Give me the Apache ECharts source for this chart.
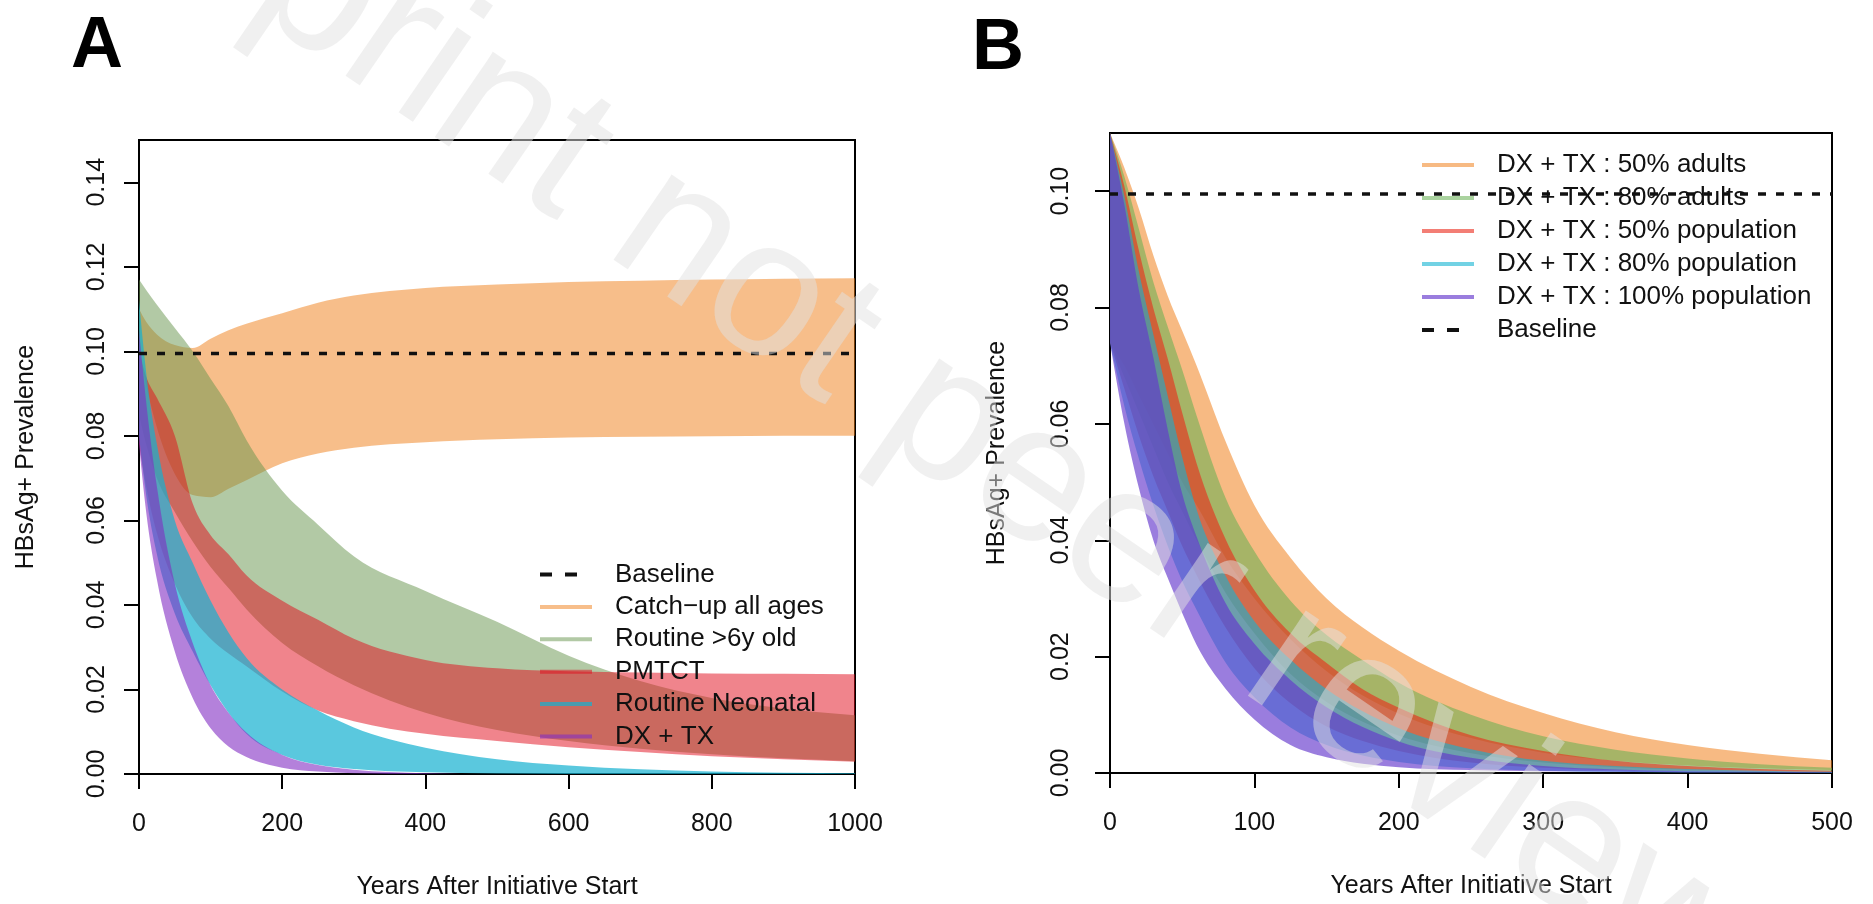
<!DOCTYPE html>
<html>
<head>
<meta charset="utf-8">
<title>HBsAg+ prevalence scenarios</title>
<script src="https://cdn.jsdelivr.net/npm/echarts@6/dist/echarts.min.js"></script>
<style>
  html, body { margin: 0; padding: 0; background: #fff; }
  #chart { width: 1873px; height: 904px; }
</style>
</head>
<body>
<div id="chart"></div>
<script>
// ---- panel A : intervention scenarios (ribbons = range of runs)
const yearsA = [0, 10, 25, 50, 75, 100, 125, 150, 200, 250, 300, 400, 500, 600, 700, 800, 900, 1000];
const catchupHi = [0.110, 0.107, 0.104, 0.1015, 0.1008, 0.103, 0.105, 0.1065, 0.109, 0.1115, 0.1132, 0.1150, 0.1158, 0.1164, 0.1167, 0.1170, 0.1172, 0.1173];
const catchupLo = [0.100, 0.092, 0.082, 0.071, 0.066, 0.0655, 0.0675, 0.0695, 0.0735, 0.0758, 0.0772, 0.0785, 0.0792, 0.0796, 0.0798, 0.0799, 0.0800, 0.0800];
const routine6Hi = [0.117, 0.1145, 0.111, 0.1055, 0.100, 0.0935, 0.087, 0.079, 0.067, 0.059, 0.0515, 0.0433, 0.036, 0.028, 0.022, 0.018, 0.0155, 0.0139];
const routine6Lo = [0.085, 0.078, 0.070, 0.062, 0.055, 0.049, 0.044, 0.039, 0.031, 0.0255, 0.021, 0.0145, 0.0104, 0.0078, 0.0060, 0.0047, 0.0037, 0.0030];
const pmtctHi = [0.100, 0.094, 0.089, 0.080, 0.064, 0.0565, 0.052, 0.047, 0.041, 0.0365, 0.032, 0.027, 0.025, 0.0243, 0.0240, 0.0238, 0.0237, 0.0236];
const pmtctLo = [0.078, 0.068, 0.057, 0.045, 0.037, 0.032, 0.0285, 0.0255, 0.0195, 0.015, 0.0125, 0.0095, 0.0078, 0.0063, 0.0052, 0.0042, 0.0035, 0.0029];
const neonatalHi = [0.112, 0.095, 0.078, 0.060, 0.050, 0.041, 0.0335, 0.0275, 0.020, 0.015, 0.011, 0.0062, 0.0035, 0.0020, 0.0011, 0.0006, 0.0003, 0.0002];
const neonatalLo = [0.080, 0.066, 0.052, 0.038, 0.029, 0.021, 0.0145, 0.0095, 0.0045, 0.0022, 0.0012, 0.0004, 0.0001, 0, 0, 0, 0, 0];
const dxtxHi = [0.105, 0.088, 0.068, 0.045, 0.031, 0.021, 0.0145, 0.0098, 0.0045, 0.0021, 0.0010, 0.0002, 0, 0, 0, 0, 0, 0];
const dxtxLo = [0.078, 0.062, 0.046, 0.029, 0.018, 0.0108, 0.0065, 0.0040, 0.0015, 0.0006, 0.0002, 0, 0, 0, 0, 0, 0, 0];

// ---- panel B : diagnosis + treatment coverage
const yearsB = [0, 10, 20, 30, 40, 50, 60, 80, 100, 125, 150, 175, 200, 250, 300, 350, 400, 450, 500];
const adults50Hi = [0.110, 0.104, 0.097, 0.089, 0.082, 0.076, 0.070, 0.057, 0.046, 0.037, 0.030, 0.025, 0.021, 0.0148, 0.0103, 0.0070, 0.0048, 0.0033, 0.0022];
const adults50Lo = [0.074, 0.070, 0.065, 0.060, 0.055, 0.050, 0.046, 0.037, 0.030, 0.023, 0.0175, 0.0133, 0.0102, 0.0060, 0.0035, 0.0021, 0.0013, 0.0008, 0.0005];
const adults80Hi = [0.110, 0.1025, 0.0935, 0.0844, 0.0767, 0.0693, 0.0614, 0.0473, 0.0381, 0.0296, 0.0237, 0.0194, 0.0155, 0.0100, 0.0063, 0.0040, 0.0025, 0.0015, 0.0009];
const adults80Lo = [0.074, 0.068, 0.062, 0.056, 0.050, 0.045, 0.040, 0.031, 0.024, 0.017, 0.0122, 0.0088, 0.0064, 0.0034, 0.0018, 0.0010, 0.0006, 0.0004, 0.0002];
const pop50Hi = [0.110, 0.1008, 0.0898, 0.0799, 0.0712, 0.0619, 0.0532, 0.0402, 0.0314, 0.0240, 0.0189, 0.0144, 0.0112, 0.0065, 0.0038, 0.0021, 0.0012, 0.0007, 0.0004];
const pop50Lo = [0.074, 0.066, 0.058, 0.051, 0.045, 0.039, 0.034, 0.025, 0.018, 0.012, 0.0080, 0.0055, 0.0038, 0.0018, 0.0009, 0.0005, 0.0003, 0.0002, 0.0001];
const pop80Hi = [0.110, 0.0991, 0.0862, 0.0754, 0.0648, 0.0543, 0.0453, 0.0339, 0.0261, 0.0195, 0.0144, 0.0106, 0.0077, 0.0041, 0.0021, 0.0012, 0.0007, 0.0004, 0.0002];
const pop80Lo = [0.074, 0.063, 0.054, 0.046, 0.039, 0.033, 0.028, 0.019, 0.013, 0.0078, 0.0048, 0.0030, 0.0019, 0.0008, 0.0004, 0.0002, 0.0001, 0.0001, 0];
const pop100Hi = [0.110, 0.0976, 0.083, 0.0714, 0.059, 0.048, 0.0406, 0.0292, 0.0222, 0.016, 0.0113, 0.0079, 0.0054, 0.0026, 0.0012, 0.0006, 0.0003, 0.0002, 0.0001];
const pop100Lo = [0.074, 0.060, 0.049, 0.040, 0.0335, 0.0275, 0.022, 0.0145, 0.0092, 0.0048, 0.0027, 0.0016, 0.0010, 0.0005, 0.0003, 0.0002, 0.0001, 0.0001, 0];

const baselineValue = 0.0995;

// tick labels
const ticksYA = [0, 0.02, 0.04, 0.06, 0.08, 0.10, 0.12, 0.14];
const ticksYB = [0, 0.02, 0.04, 0.06, 0.08, 0.10];

const FONT = "'Liberation Sans', Arial, Helvetica, sans-serif";
const colA = {
  catchup: 'rgba(239,125,21,0.5)',
  routine6: 'rgba(101,147,75,0.5)',
  pmtct: 'rgba(225,9,25,0.5)',
  neonatal: 'rgba(20,176,208,0.7)',
  dxtx: 'rgba(130,45,195,0.6)'
};
const colB = {
  a50: 'rgba(240,130,30,0.55)',
  a80: 'rgba(100,175,80,0.55)',
  p50: 'rgba(235,40,25,0.6)',
  p80: 'rgba(20,180,210,0.6)',
  p100: 'rgba(100,55,205,0.65)'
};
// two short dashes, padded to the full icon width
const DASH_ICON = 'path://M0,0L12,0L12,4L0,4Z M25,0L37,0L37,4L25,4Z M52,0L52,4';

// monotone cubic through pixel points (x increasing), returns bezier segments
function monoSegs(p) {
  var n = p.length, m = new Array(n), segs = [];
  var h = [], s = [];
  for (var i = 0; i < n - 1; i++) {
    h[i] = p[i + 1][0] - p[i][0];
    s[i] = h[i] ? (p[i + 1][1] - p[i][1]) / h[i] : 0;
  }
  for (var k = 1; k < n - 1; k++) {
    var pp = (s[k - 1] * h[k] + s[k] * h[k - 1]) / (h[k - 1] + h[k]);
    m[k] = (Math.sign(s[k - 1]) + Math.sign(s[k])) *
      Math.min(Math.abs(s[k - 1]), Math.abs(s[k]), 0.5 * Math.abs(pp)) || 0;
  }
  m[0] = n > 2 ? (3 * s[0] - m[1]) / 2 : s[0];
  m[n - 1] = n > 2 ? (3 * s[n - 2] - m[n - 2]) / 2 : s[n - 2];
  for (var j = 0; j < n - 1; j++) {
    var d = h[j] / 3;
    segs.push([p[j], [p[j][0] + d, p[j][1] + m[j] * d], [p[j + 1][0] - d, p[j + 1][1] - m[j + 1] * d], p[j + 1]]);
  }
  return segs;
}

function f(v) { return v.toFixed(2); }

// ribbon between lo and hi, one closed path in axis coords
function band(name, xs, lo, hi, color, idx) {
  return {
    name: name,
    type: 'custom',
    xAxisIndex: idx,
    yAxisIndex: idx,
    clip: true,
    silent: true,
    itemStyle: { color: color },
    data: xs.map(function (x, i) { return [x, lo[i], hi[i]]; }),
    encode: { x: 0, y: [1, 2] },
    renderItem: function (params, api) {
      if (params.dataIndex !== 0) return null;
      var top = xs.map(function (x, i) { return api.coord([x, hi[i]]); });
      var bot = xs.map(function (x, i) { return api.coord([x, lo[i]]); });
      var d = 'M' + f(top[0][0]) + ',' + f(top[0][1]);
      monoSegs(top).forEach(function (g) {
        d += 'C' + f(g[1][0]) + ',' + f(g[1][1]) + ' ' + f(g[2][0]) + ',' + f(g[2][1]) + ' ' + f(g[3][0]) + ',' + f(g[3][1]);
      });
      var last = bot[bot.length - 1];
      d += 'L' + f(last[0]) + ',' + f(last[1]);
      monoSegs(bot).reverse().forEach(function (g) {
        d += 'C' + f(g[2][0]) + ',' + f(g[2][1]) + ' ' + f(g[1][0]) + ',' + f(g[1][1]) + ' ' + f(g[0][0]) + ',' + f(g[0][1]);
      });
      d += 'Z';
      return { type: 'path', shape: { pathData: d }, style: { fill: color, stroke: null } };
    }
  };
}

function baseline(idx, xmax) {
  return {
    name: 'Baseline',
    type: 'line',
    xAxisIndex: idx,
    yAxisIndex: idx,
    symbol: 'none',
    silent: true,
    data: [[0, baselineValue], [xmax, baselineValue]],
    lineStyle: { color: '#111', width: 3.5, type: [8, 10], cap: 'butt' }
  };
}

function xAxisOf(idx, max, interval) {
  return {
    type: 'value', gridIndex: idx, min: 0, max: max, interval: interval,
    name: 'Years After Initiative Start', nameLocation: 'middle', nameGap: 101,
    nameTextStyle: { fontSize: 25, color: '#111', fontFamily: FONT },
    axisLine: { show: true, onZero: false, lineStyle: { color: '#000', width: 2 } },
    axisTick: { show: true, inside: false, length: 15, lineStyle: { color: '#000', width: 2 } },
    axisLabel: { fontSize: 25, color: '#111', fontFamily: FONT, margin: 38, formatter: function (v) { return String(v); } },
    splitLine: { show: false }
  };
}

function yAxisOf(idx, max, ticks, margin) {
  return {
    type: 'value', gridIndex: idx, min: 0, max: max,
    name: 'HBsAg+ Prevalence', nameLocation: 'middle', nameGap: 100,
    nameTextStyle: { fontSize: 25, color: '#111', fontFamily: FONT },
    axisLine: { show: true, lineStyle: { color: '#000', width: 2 } },
    axisTick: { show: true, inside: false, length: 15, customValues: ticks, lineStyle: { color: '#000', width: 2 } },
    axisLabel: {
      fontSize: 25, color: '#111', fontFamily: FONT, rotate: 90, margin: margin,
      customValues: ticks,
      formatter: function (v) { return v.toFixed(2); }
    },
    splitLine: { show: false }
  };
}

function legendOf(left, top, gap, items) {
  return {
    orient: 'vertical', left: left, top: top, padding: 0, itemGap: gap,
    itemWidth: 52, itemHeight: 4, symbolKeepAspect: false, selectedMode: false,
    itemStyle: { borderWidth: 0 },
    textStyle: { fontSize: 26, lineHeight: 30, color: '#111', fontFamily: FONT, padding: [0, 0, 0, 18] },
    data: items.map(function (it) {
      return { name: it[0], icon: it[1], itemStyle: { color: it[2], borderWidth: 0 } };
    })
  };
}

const chart = echarts.init(document.getElementById('chart'), null, { renderer: 'canvas' });

chart.setOption({
  animation: false,
  backgroundColor: '#fff',
  title: [
    { text: 'A', left: 71, top: 7, padding: 0, textStyle: { fontSize: 72, fontWeight: 'bold', color: '#000', fontFamily: FONT, lineHeight: 80 } },
    { text: 'B', left: 972, top: 9, padding: 0, textStyle: { fontSize: 72, fontWeight: 'bold', color: '#000', fontFamily: FONT, lineHeight: 80 } }
  ],
  grid: [
    { left: 139, right: 1018, top: 140, bottom: 130, show: true, borderColor: '#000', borderWidth: 2, outerBoundsMode: 'none' },
    { left: 1110, right: 41, top: 133, bottom: 131, show: true, borderColor: '#000', borderWidth: 2, outerBoundsMode: 'none' }
  ],
  xAxis: [xAxisOf(0, 1000, 200), xAxisOf(1, 500, 100)],
  yAxis: [yAxisOf(0, 0.15, ticksYA, 29), yAxisOf(1, 0.11, ticksYB, 36)],
  legend: [
    legendOf(540, 559.5, 2.4, [
      ['Baseline', DASH_ICON, '#111'],
      ['Catch−up all ages', 'rect', colA.catchup],
      ['Routine >6y old', 'rect', colA.routine6],
      ['PMTCT', 'rect', colA.pmtct],
      ['Routine Neonatal', 'rect', colA.neonatal],
      ['DX + TX', 'rect', colA.dxtx]
    ]),
    legendOf(1422, 150, 3, [
      ['DX + TX : 50% adults', 'rect', colB.a50],
      ['DX + TX : 80% adults', 'rect', colB.a80],
      ['DX + TX : 50% population', 'rect', colB.p50],
      ['DX + TX : 80% population', 'rect', colB.p80],
      ['DX + TX : 100% population', 'rect', colB.p100],
      ['Baseline', DASH_ICON, '#111']
    ])
  ],
  graphic: [{
    type: 'text', x: 968, y: 438, rotation: -34.5 * Math.PI / 180, z: 100, silent: true,
    style: {
      text: 'Preprint not peer reviewed',
      font: "195px 'Liberation Sans', Arial, sans-serif",
      fill: 'rgba(225,225,225,0.5)',
      align: 'center', verticalAlign: 'middle'
    }
  }],
  series: [
    baseline(0, yearsA[yearsA.length - 1]),
    band('Catch−up all ages', yearsA, catchupLo, catchupHi, colA.catchup, 0),
    band('Routine >6y old', yearsA, routine6Lo, routine6Hi, colA.routine6, 0),
    band('PMTCT', yearsA, pmtctLo, pmtctHi, colA.pmtct, 0),
    band('Routine Neonatal', yearsA, neonatalLo, neonatalHi, colA.neonatal, 0),
    band('DX + TX', yearsA, dxtxLo, dxtxHi, colA.dxtx, 0),

    baseline(1, yearsB[yearsB.length - 1]),
    band('DX + TX : 50% adults', yearsB, adults50Lo, adults50Hi, colB.a50, 1),
    band('DX + TX : 80% adults', yearsB, adults80Lo, adults80Hi, colB.a80, 1),
    band('DX + TX : 50% population', yearsB, pop50Lo, pop50Hi, colB.p50, 1),
    band('DX + TX : 80% population', yearsB, pop80Lo, pop80Hi, colB.p80, 1),
    band('DX + TX : 100% population', yearsB, pop100Lo, pop100Hi, colB.p100, 1)
  ]
});
</script>
</body>
</html>
